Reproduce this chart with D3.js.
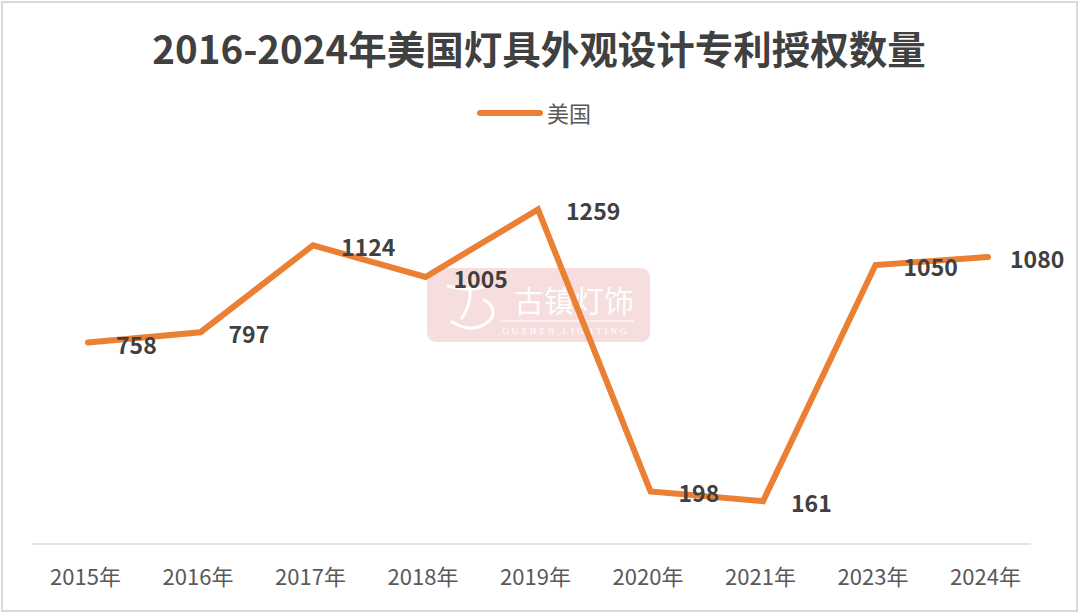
<!DOCTYPE html>
<html>
<head>
<meta charset="utf-8">
<script src="https://cdn.jsdelivr.net/npm/d3@7"></script>
<style>
  body { margin: 0; background: #fff; }
  svg { display: block; }
</style>
</head>
<body>
<svg width="1080" height="614"></svg>
<script>
var years = ['2015年', '2016年', '2017年', '2018年', '2019年', '2020年', '2021年', '2023年', '2024年'];
var values = [758, 797, 1124, 1005, 1259, 198, 161, 1050, 1080];
var seriesName = '美国';
var titleText = '2016-2024年美国灯具外观设计专利授权数量';

var svg = d3.select('svg'),
  width = +svg.attr('width'),
  height = +svg.attr('height');

var orange = '#EB7F33';
var cjk = '"Noto Sans CJK SC", "Noto Sans", sans-serif';

var data = years.map(function(y, i) {
  return { year: y, value: values[i] };
});

// outer frame
svg.append('rect')
  .attr('x', 2).attr('y', 2)
  .attr('width', width - 5).attr('height', height - 5)
  .attr('fill', '#fff')
  .attr('stroke', '#d9d9d9')
  .attr('stroke-width', 2);

var x = d3.scalePoint().domain(years).range([88, 988]);
var y = d3.scaleLinear().domain([0, 1400]).range([544, 172]);

// title
svg.append('text')
  .attr('x', 539)
  .attr('y', 47)
  .attr('text-anchor', 'middle')
  .attr('dominant-baseline', 'central')
  .attr('font-family', cjk)
  .attr('font-weight', 'bold')
  .attr('font-size', 38.5)
  .attr('fill', '#404040')
  .text(titleText);

// legend
var legend = svg.append('g').attr('class', 'legend');
legend.append('line')
  .attr('x1', 480).attr('x2', 540)
  .attr('y1', 113).attr('y2', 113)
  .attr('stroke', orange)
  .attr('stroke-width', 6)
  .attr('stroke-linecap', 'round');
legend.append('text')
  .attr('x', 547)
  .attr('y', 112)
  .attr('dominant-baseline', 'central')
  .attr('font-family', cjk)
  .attr('font-size', 22)
  .attr('fill', '#595959')
  .text(seriesName);

// x axis
var xAxis = svg.append('g')
  .attr('transform', 'translate(0,' + y(0) + ')')
  .call(d3.axisBottom(x).tickSize(0).tickPadding(0));
xAxis.select('.domain').remove();
xAxis.append('line')
  .attr('x1', 32).attr('x2', 1031)
  .attr('stroke', '#d9d9d9')
  .attr('stroke-width', 1.5);
xAxis.selectAll('.tick text')
  .attr('x', -3)
  .attr('y', 33)
  .attr('dy', '0.35em')
  .attr('font-family', cjk)
  .attr('font-size', 22)
  .attr('fill', '#595959');

// watermark
var wm = svg.append('g').attr('class', 'watermark');
wm.append('rect')
  .attr('x', 427).attr('y', 268)
  .attr('width', 223).attr('height', 74)
  .attr('rx', 9)
  .attr('fill', '#f3d3d3')
  .attr('opacity', 0.75);
wm.append('path')
  .attr('d', 'M448,286 Q470,292 486,286 M468,280 Q474,300 462,318 M452,322 Q476,336 492,318 Q496,306 484,300')
  .attr('fill', 'none')
  .attr('stroke', '#fff')
  .attr('stroke-width', 3)
  .attr('stroke-linecap', 'round');
wm.append('text')
  .attr('x', 574).attr('y', 299)
  .attr('text-anchor', 'middle')
  .attr('dominant-baseline', 'central')
  .attr('font-family', '"Noto Sans CJK SC", sans-serif')
  .attr('font-size', 30)
  .attr('fill', '#fff')
  .attr('opacity', 0.95)
  .text('古镇灯饰');
wm.append('line')
  .attr('x1', 500).attr('x2', 634)
  .attr('y1', 321).attr('y2', 321)
  .attr('stroke', '#fff')
  .attr('stroke-width', 1);
wm.append('text')
  .attr('x', 566).attr('y', 331)
  .attr('text-anchor', 'middle')
  .attr('dominant-baseline', 'central')
  .attr('font-family', '"Liberation Serif", serif')
  .attr('font-size', 9)
  .attr('letter-spacing', 3)
  .attr('fill', '#fff')
  .text('GUZHEN LIGHTING');

// line
var line = d3.line()
  .x(function(d) { return x(d.year); })
  .y(function(d) { return y(d.value); });

svg.append('path')
  .datum(data)
  .attr('d', line)
  .attr('fill', 'none')
  .attr('stroke', orange)
  .attr('stroke-width', 6)
  .attr('stroke-linejoin', 'miter')
  .attr('stroke-linecap', 'round');

// data labels
svg.append('g')
  .selectAll('text')
  .data(data)
  .enter()
  .append('text')
  .attr('x', function(d, i) { return x(d.year) + (i === data.length - 1 ? 22 : 28); })
  .attr('y', function(d) { return y(d.value) + 1; })
  .attr('dominant-baseline', 'central')
  .attr('font-family', cjk)
  .attr('font-weight', 'bold')
  .attr('font-size', 23)
  .attr('fill', '#404040')
  .text(function(d) { return d.value; });
</script>
</body>
</html>
